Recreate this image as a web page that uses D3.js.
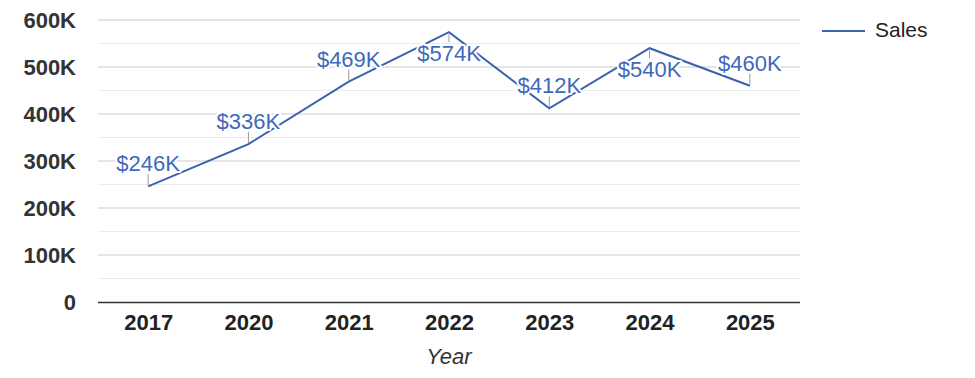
<!DOCTYPE html>
<html><head><meta charset="utf-8">
<script src="https://cdn.jsdelivr.net/npm/d3@7"></script>
<style>
html,body{margin:0;padding:0;background:#fff;}
text{font-family:Arial,"Liberation Sans",sans-serif;}
</style></head>
<body><svg id="chart" width="975" height="378"></svg>
<script>
const years = ["2017","2020","2021","2022","2023","2024","2025"];
const sales = [246000, 336000, 469000, 574000, 412000, 540000, 460000];
const yTicks = [0,100000,200000,300000,400000,500000,600000];
const yMinorTicks = [50000,150000,250000,350000,450000,550000];
const seriesName = "Sales";
const xTitle = "Year";

(function(){
const svg = d3.select("#chart");
const mL = 98, mR = 800, mT = 20, mB = 302;
const lineColor = "#3b62ae", labelColor = "#3f69bd";

const x = d3.scalePoint().domain(years).range([mL,mR]).padding(0.5);
const y = d3.scaleLinear().domain([0,600000]).range([mB,mT]);

// minor gridlines
svg.append("g").selectAll("line").data(yMinorTicks).join("line")
  .attr("x1",mL).attr("x2",mR).attr("y1",d=>y(d)).attr("y2",d=>y(d))
  .attr("stroke","#ebebeb").attr("stroke-width",1);
// major gridlines
svg.append("g").selectAll("line").data(yTicks.filter(d=>d>0)).join("line")
  .attr("x1",mL).attr("x2",mR).attr("y1",d=>y(d)).attr("y2",d=>y(d))
  .attr("stroke","#cccccc").attr("stroke-width",1);

// y axis labels
const yAxis = d3.axisLeft(y).tickValues(yTicks).tickSize(0).tickPadding(22)
  .tickFormat(d => d===0 ? "0" : (d/1000)+"K");
const gy = svg.append("g").attr("transform",`translate(${mL},0)`).call(yAxis);
gy.select(".domain").remove();
gy.selectAll("text").attr("font-size",22).attr("font-weight","bold").attr("fill","#333")
  .attr("font-family","Arial, 'Liberation Sans', sans-serif");

// x axis
const xAxis = d3.axisBottom(x).tickSize(0).tickPadding(12);
const gx = svg.append("g").attr("transform",`translate(0,${mB})`).call(xAxis);
gx.select(".domain").attr("d",`M${mL},0.5H${mR}`).attr("stroke","#333").attr("stroke-width",1.3);
gx.selectAll("text").attr("font-size",22).attr("font-weight","bold").attr("fill","#222")
  .attr("font-family","Arial, 'Liberation Sans', sans-serif");

svg.append("text").attr("x",(mL+mR)/2).attr("y",364).attr("text-anchor","middle")
  .attr("font-size",22).attr("font-style","italic").attr("fill","#333").text(xTitle);

const data = years.map((yr,i)=>({yr, v:sales[i]}));

// line
svg.append("path").datum(data)
  .attr("d", d3.line().x(d=>x(d.yr)).y(d=>y(d.v)))
  .attr("fill","none").attr("stroke",lineColor).attr("stroke-width",2);

// labels with leaders
const fmt = v => "$" + Math.round(v/1000) + "K";
const lab = svg.append("g");
data.forEach(d=>{
  const px = x(d.yr), py = y(d.v);
  const below = (py - 38) < mT;
  const ly1 = below ? py + 2 : py - 1;
  const ly2 = below ? py + 10 : py - 12;
  lab.append("line").attr("x1",px).attr("x2",px).attr("y1",ly1).attr("y2",ly2)
    .attr("stroke","#999").attr("stroke-width",1);
  lab.append("text").attr("x",px).attr("y", below ? py + 29 : py - 15)
    .attr("text-anchor","middle").attr("font-size",22).attr("fill",labelColor)
    .attr("stroke","#fff").attr("stroke-width",4).attr("stroke-linejoin","round")
    .attr("paint-order","stroke").text(fmt(d.v));
});

// legend
svg.append("line").attr("x1",822).attr("x2",865).attr("y1",31).attr("y2",31)
  .attr("stroke",lineColor).attr("stroke-width",2);
svg.append("text").attr("x",875).attr("y",37).attr("font-size",21).attr("fill","#222").text(seriesName);
})();
</script></body></html>
